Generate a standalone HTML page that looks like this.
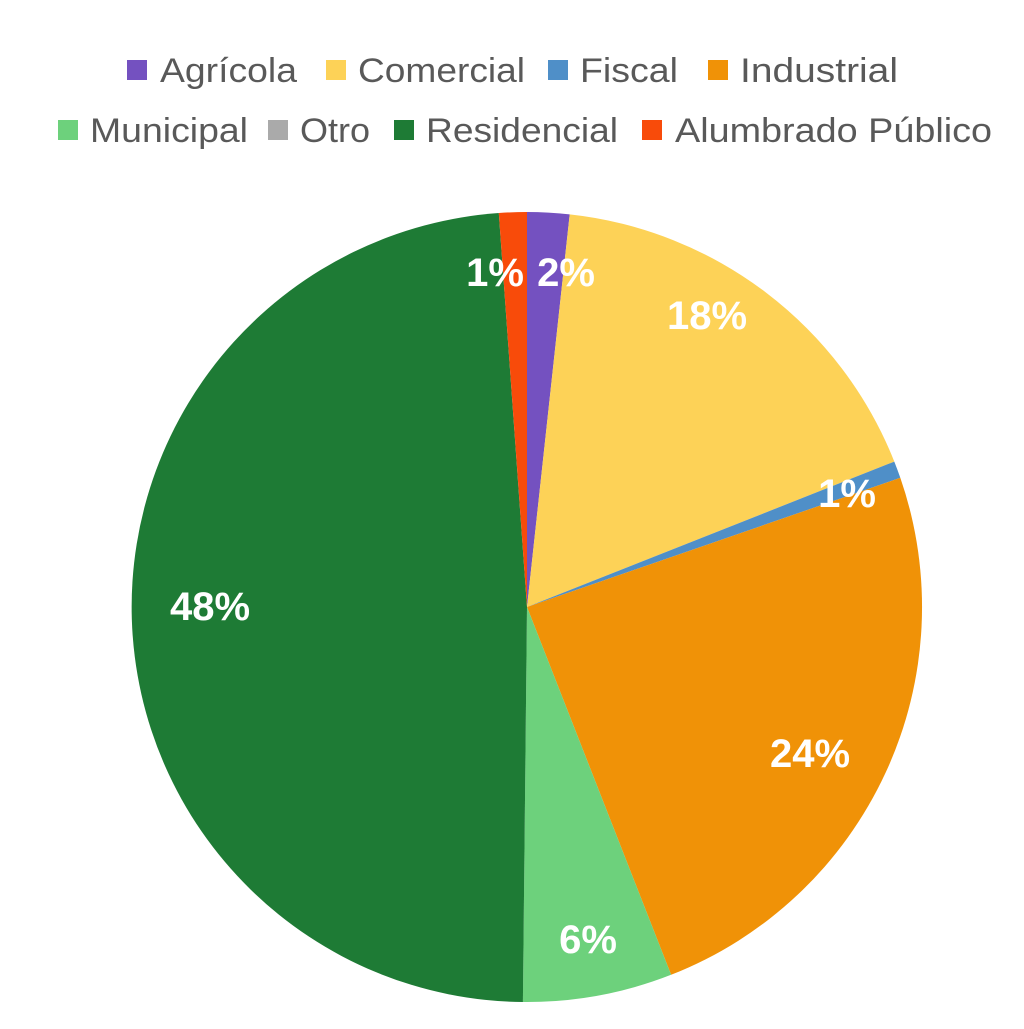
<!DOCTYPE html>
<html><head><meta charset="utf-8"><style>body{margin:0;background:#fff}</style></head><body>
<svg width="1024" height="1024" viewBox="0 0 1024 1024" xmlns="http://www.w3.org/2000/svg">
<g font-family="Liberation Sans, DejaVu Sans, sans-serif" font-size="34" fill="#595959">
<rect x="127" y="60" width="20" height="20" fill="#7451c0"/><text x="160" y="82" textLength="137" lengthAdjust="spacingAndGlyphs">Agrícola</text>
<rect x="326" y="60" width="20" height="20" fill="#fdd257"/><text x="358" y="82" textLength="167" lengthAdjust="spacingAndGlyphs">Comercial</text>
<rect x="548" y="60" width="20" height="20" fill="#4f8fc8"/><text x="580" y="82" textLength="98" lengthAdjust="spacingAndGlyphs">Fiscal</text>
<rect x="708" y="60" width="20" height="20" fill="#f09207"/><text x="740" y="82" textLength="158" lengthAdjust="spacingAndGlyphs">Industrial</text>
<rect x="58" y="120" width="20" height="20" fill="#6dd17c"/><text x="90" y="142" textLength="158" lengthAdjust="spacingAndGlyphs">Municipal</text>
<rect x="268" y="120" width="20" height="20" fill="#aaaaaa"/><text x="300" y="142" textLength="70" lengthAdjust="spacingAndGlyphs">Otro</text>
<rect x="394" y="120" width="20" height="20" fill="#1e7b35"/><text x="426" y="142" textLength="192" lengthAdjust="spacingAndGlyphs">Residencial</text>
<rect x="642" y="120" width="20" height="20" fill="#f84b0a"/><text x="675" y="142" textLength="317" lengthAdjust="spacingAndGlyphs">Alumbrado Público</text>
</g>
<g>
<path d="M527 607 L527 212 A395 395 0 0 1 569.7 214.4 Z" fill="#7451c0"/>
<path d="M527 607 L569.7 214.4 A395 395 0 0 1 894.3 461.6 Z" fill="#fdd257"/>
<path d="M527 607 L894.3 461.6 A395 395 0 0 1 900.3 477.8 Z" fill="#4f8fc8"/>
<path d="M527 607 L900.3 477.8 A395 395 0 0 1 671.1 974.8 Z" fill="#f09207"/>
<path d="M527 607 L671.1 974.8 A395 395 0 0 1 522.9 1002 Z" fill="#6dd17c"/>
<path d="M527 607 L522.9 1002 A395 395 0 0 1 498.8 213 Z" fill="#1e7b35"/>
<path d="M527 607 L498.8 213 A395 395 0 0 1 527 212 Z" fill="#f84b0a"/>
</g>
<g font-family="Liberation Sans, DejaVu Sans, sans-serif" font-size="40" font-weight="bold" fill="#fff" text-anchor="middle">
<text x="566" y="286">2%</text>
<text x="495" y="286">1%</text>
<text x="707" y="329">18%</text>
<text x="847" y="507">1%</text>
<text x="810" y="767">24%</text>
<text x="588" y="953">6%</text>
<text x="210" y="620">48%</text>
</g>
</svg>
</body></html>
